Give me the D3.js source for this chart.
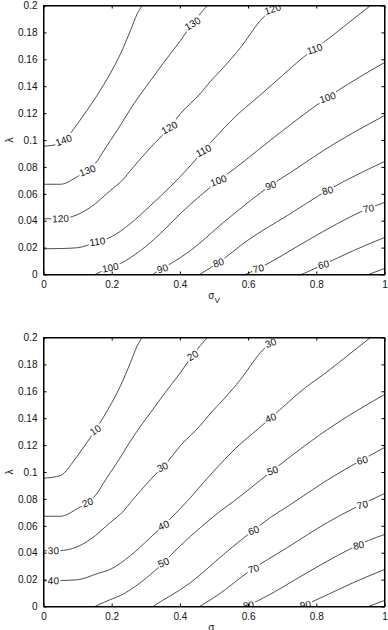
<!DOCTYPE html>
<html>
<head>
<meta charset="utf-8">
<script src="https://cdn.jsdelivr.net/npm/d3@7"></script>
<style>
  body { margin: 0; background: #fff; }
  text { font-family: "Liberation Sans", Arial, sans-serif; }
</style>
</head>
<body>
<div id="chart"></div>
<script>
// axis ticks
var xTicks = [0, 0.2, 0.4, 0.6, 0.8, 1];
var yTicks = [0, 0.02, 0.04, 0.06, 0.08, 0.1, 0.12, 0.14, 0.16, 0.18, 0.2];

// contour shapes [sigma, lambda].
// both panels share the same shapes, only the levels differ
var c1 = [[0,0.0954],[0.05,0.0974],[0.0889,0.1083],[0.1135,0.117],[0.1475,0.1294],[0.1868,0.1455],[0.2258,0.1641],[0.2551,0.1814],[0.2748,0.1938],[0.2894,0.2]];
var c2 = [[0,0.0671],[0.05,0.0671],[0.1,0.0729],[0.13,0.0775],[0.158,0.0845],[0.177,0.0922],[0.216,0.1071],[0.265,0.1269],[0.314,0.1442],[0.372,0.1641],[0.402,0.174],[0.437,0.1866],[0.46,0.194],[0.481,0.2]];
var c3 = [[0,0.0414],[0.05,0.0416],[0.085,0.0431],[0.138,0.05],[0.196,0.0625],[0.2355,0.0712],[0.255,0.0773],[0.314,0.0944],[0.367,0.1086],[0.402,0.1197],[0.46,0.1346],[0.49,0.1437],[0.528,0.154],[0.578,0.1688],[0.636,0.1888],[0.683,0.2]];
var c4 = [[0,0.0191],[0.05,0.0193],[0.0997,0.0199],[0.1584,0.0245],[0.1965,0.0277],[0.2551,0.0379],[0.3138,0.0513],[0.3724,0.0654],[0.4311,0.081],[0.4692,0.0922],[0.4985,0.1004],[0.563,0.1175],[0.6305,0.1323],[0.7009,0.148],[0.7683,0.1628],[0.8211,0.1725],[0.8886,0.1859],[0.9589,0.2]];
var c5 = [[0.1504,0],[0.1965,0.0052],[0.2258,0.0082],[0.2845,0.0178],[0.3431,0.0305],[0.4018,0.0454],[0.4604,0.0587],[0.5132,0.0699],[0.5572,0.0781],[0.6276,0.0922],[0.7243,0.1115],[0.8328,0.1316],[0.8915,0.1413],[1,0.1576]];
var c6 = [[0.3205,0],[0.349,0.0045],[0.4018,0.0126],[0.4311,0.0178],[0.5279,0.0387],[0.607,0.055],[0.6657,0.0662],[0.7243,0.0758],[0.8211,0.0922],[1,0.1182]];
var c7 = [[0.4575,0],[0.5132,0.0089],[0.5982,0.0253],[0.7155,0.0439],[0.8328,0.0625],[1,0.084]];
var c8 = [[0.5924,0],[0.6305,0.0045],[0.7742,0.0253],[0.8622,0.0379],[0.9531,0.0491],[1,0.0535]];
var c9 = [[0.7566,0],[0.8211,0.0074],[0.9091,0.0178],[1,0.0275]];
var c10 = [[0.9531,0],[1,0.0045]];
var shapes = [c1, c2, c3, c4, c5, c6, c7, c8, c9, c10];

// levels and label positions (sigma of each inline label)
var topLevels = [140, 130, 120, 110, 100, 90, 80, 70, 60, 50];
var topLabels = [[0.059], [0.129, 0.437], [0.05, 0.369, 0.672], [0.158, 0.469, 0.795], [0.196, 0.513, 0.833], [0.349, 0.666], [0.513, 0.833], [0.63, 0.953], [0.821], []];
var bottomLevels = [10, 20, 30, 40, 50, 60, 70, 80, 90, 100];
var bottomLabels = [[0.152], [0.129, 0.437], [0.029, 0.349, 0.666], [0.029, 0.352, 0.666], [0.352, 0.672], [0.616, 0.935], [0.616, 0.935], [0.601, 0.924], [0.768], []];

var width = 388, height = 630;
var pw = 341, ph = 269;

var svg = d3.select("#chart")
	.append("svg")
	.attr("width", width)
	.attr("height", height);

var x = d3.scaleLinear().domain([0, 1]).range([0, pw]);
var y = d3.scaleLinear().domain([0, 0.2]).range([ph, 0]);

var fmt = function(d) { return String(+d.toFixed(2)); };

var line = d3.line()
	.x(function(d) { return x(d[0]); })
	.y(function(d) { return y(d[1]); })
	.curve(d3.curveMonotoneX);

// y on a polyline (pixels) at a given x
function yAt(pts, px) {
	if (px <= pts[0][0]) return pts[0][1];
	for (var i = 0; i < pts.length - 1; i++) {
		var a = pts[i], b = pts[i + 1];
		if (px >= a[0] && px <= b[0]) {
			var t = (px - a[0]) / (b[0] - a[0]);
			return a[1] + t * (b[1] - a[1]);
		}
	}
	return pts[pts.length - 1][1];
}

function panel(id, top, levels, labels) {
	var g = svg.append("g").attr("transform", "translate(43.5," + top + ")");

	g.append("clipPath").attr("id", "clip" + id)
		.append("rect").attr("width", pw).attr("height", ph);

	var plot = g.append("g").attr("clip-path", "url(#clip" + id + ")");

	plot.selectAll(".contour")
		.data(shapes)
		.enter().append("path")
		.attr("class", "contour")
		.attr("d", line)
		.attr("fill", "none")
		.attr("stroke", "#222")
		.attr("stroke-width", 0.8);

	// inline labels, line broken behind them
	// (labels are tilted less than the line, as in the original)
	shapes.forEach(function(s, i) {
		var pts = s.map(function(d) { return [x(d[0]), y(d[1])]; });
		labels[i].forEach(function(sig) {
			var px = x(sig);
			var py = yAt(pts, px);
			var slope = (yAt(pts, px + 7) - yAt(pts, px - 7)) / 14;
			var ang = Math.atan(slope * 0.45) * 180 / Math.PI;
			var lg = plot.append("g")
				.attr("transform", "translate(" + px + "," + py + ") rotate(" + ang + ")");
			var bg = lg.append("rect").attr("fill", "#fff");
			var t = lg.append("text")
				.attr("text-anchor", "middle")
				.attr("dy", "0.36em")
				.attr("font-size", 10)
				.attr("fill", "#111")
				.text(levels[i]);
			var bb = t.node().getBBox();
			bg.attr("x", bb.x - 1).attr("y", -4.5).attr("width", bb.width + 2).attr("height", 9);
		});
	});

	// axes, ticks inside on all four sides
	g.append("g").attr("transform", "translate(0," + ph + ")")
		.call(d3.axisBottom(x).tickValues(xTicks).tickSize(-3).tickSizeOuter(0).tickPadding(6).tickFormat(fmt));
	g.append("g")
		.call(d3.axisLeft(y).tickValues(yTicks).tickSize(-3).tickSizeOuter(0).tickPadding(6).tickFormat(fmt));
	g.append("g")
		.call(d3.axisTop(x).tickValues(xTicks).tickSize(-3).tickSizeOuter(0).tickFormat(""));
	g.append("g").attr("transform", "translate(" + pw + ",0)")
		.call(d3.axisRight(y).tickValues(yTicks).tickSize(-3).tickSizeOuter(0).tickFormat(""));

	g.selectAll(".tick text")
		.attr("font-family", "Liberation Sans, Arial, sans-serif")
		.attr("font-size", 10)
		.attr("fill", "#111");

	g.append("rect")
		.attr("width", pw).attr("height", ph)
		.attr("fill", "none")
		.attr("stroke", "#000")
		.attr("stroke-width", 1);

	// axis titles
	var xl = g.append("text")
		.attr("x", pw / 2)
		.attr("y", ph + 24)
		.attr("text-anchor", "middle")
		.attr("font-size", 10)
		.attr("fill", "#111")
		.text("σ");
	xl.append("tspan").attr("dy", 4).attr("font-size", 8).text("V");

	g.append("text")
		.attr("transform", "translate(-31," + (ph / 2) + ") rotate(-90)")
		.attr("text-anchor", "middle")
		.attr("font-size", 10)
		.attr("fill", "#111")
		.text("λ");
}

panel(1, 5.5, topLevels, topLabels);
panel(2, 337.5, bottomLevels, bottomLabels);
</script>
</body>
</html>
